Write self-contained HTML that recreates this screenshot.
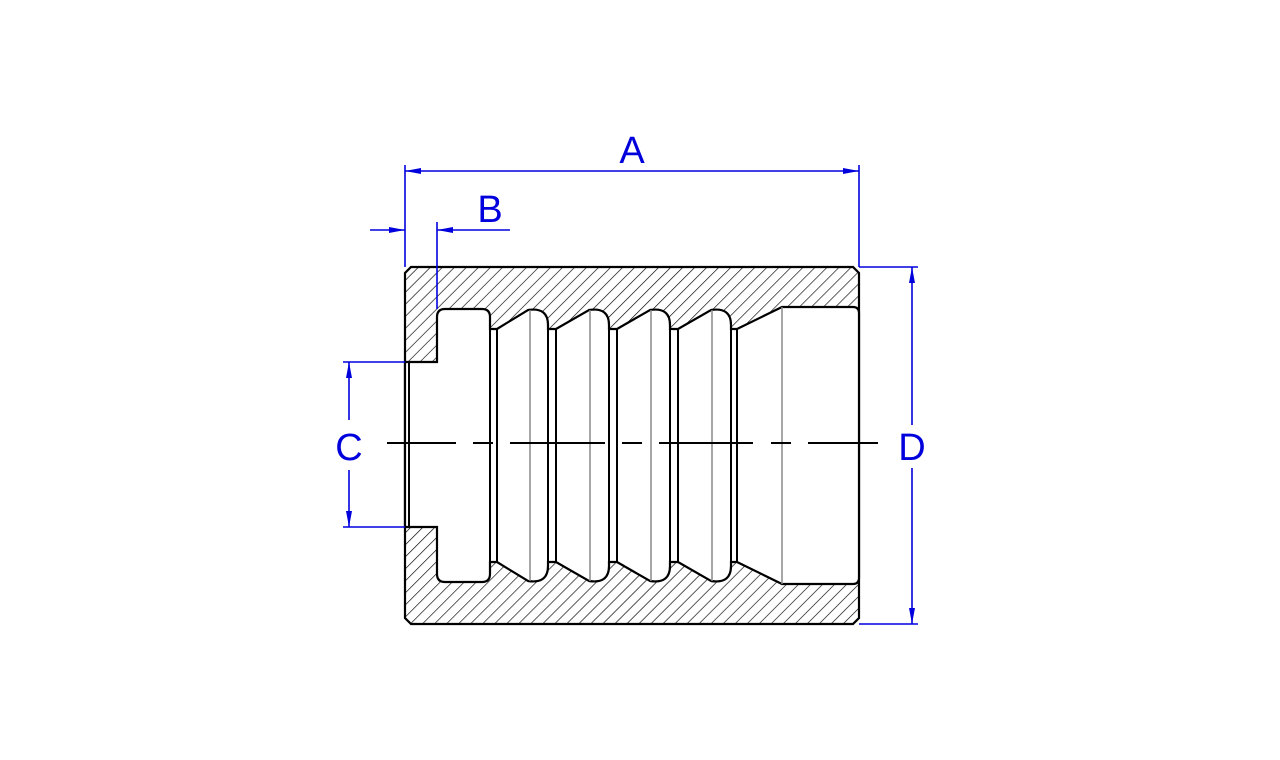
<!DOCTYPE html>
<html><head><style>html,body{margin:0;padding:0;background:#fff;}svg{display:block}</style></head>
<body>
<svg width="1280" height="760" viewBox="0 0 1280 760" xmlns="http://www.w3.org/2000/svg">
<defs>
<pattern id="h" patternUnits="userSpaceOnUse" width="8.5" height="8.5" patternTransform="rotate(45)">
<line x1="0" y1="0" x2="0" y2="8.5" stroke="#000" stroke-width="1.3"/>
</pattern>
</defs>
<path d="M411,267 L853,267 L859,273 L859,618 L853,624 L411,624 L405,618 L405,273 Z" fill="url(#h)" stroke="#000" stroke-width="2.2"/>
<path d="M405,362 L437,362 L437,317 Q437,309 445,309 L482,309 Q490,309 490,317 L490,329 L497,329 L528,310 Q548,307 548,325 L548,329 L556,329 L589,310 Q609,307 609,325 L609,329 L617,329 L650,310 Q670,307 670,325 L670,329 L678,329 L711,310 Q731,307 731,325 L731,329 L737,329 L782,307 L853,307 Q859,307 859,313 L859,578 Q859,584 853,584 L782,584 L737,562 L731,562 L731,566 Q731,584 711,581 L678,562 L670,562 L670,566 Q670,584 650,581 L617,562 L609,562 L609,566 Q609,584 589,581 L556,562 L548,562 L548,566 Q548,584 528,581 L497,562 L490,562 L490,574 Q490,582 482,582 L445,582 Q437,582 437,574 L437,527 L405,527 Z" fill="#fff" stroke="#000" stroke-width="2.2"/>
<g stroke="#000" stroke-width="2">
<line x1="409" y1="362" x2="409" y2="527"/>
<line x1="490" y1="329" x2="490" y2="562"/>
<line x1="497" y1="329" x2="497" y2="562"/>
<line x1="548" y1="329" x2="548" y2="562"/>
<line x1="556" y1="329" x2="556" y2="562"/>
<line x1="609" y1="329" x2="609" y2="562"/>
<line x1="617" y1="329" x2="617" y2="562"/>
<line x1="670" y1="329" x2="670" y2="562"/>
<line x1="678" y1="329" x2="678" y2="562"/>
<line x1="731" y1="329" x2="731" y2="562"/>
<line x1="737" y1="329" x2="737" y2="562"/>
</g>
<g stroke="#888" stroke-width="1.5">
<line x1="530" y1="310" x2="530" y2="581"/>
<line x1="590" y1="310" x2="590" y2="581"/>
<line x1="651" y1="310" x2="651" y2="581"/>
<line x1="712" y1="310" x2="712" y2="581"/>
<line x1="782" y1="307" x2="782" y2="584"/>
</g>
<g stroke="#000" stroke-width="2">
<line x1="387" y1="443" x2="456" y2="443"/>
<line x1="473" y1="443" x2="493" y2="443"/>
<line x1="510" y1="443" x2="605" y2="443"/>
<line x1="622" y1="443" x2="642" y2="443"/>
<line x1="659" y1="443" x2="753" y2="443"/>
<line x1="771" y1="443" x2="791" y2="443"/>
<line x1="808" y1="443" x2="878" y2="443"/>
</g>
<g stroke="#0000dd" stroke-width="1.6" fill="none">
<line x1="405" y1="165" x2="405" y2="267"/>
<line x1="859" y1="165" x2="859" y2="267"/>
<line x1="405" y1="171" x2="859" y2="171"/>
<line x1="437" y1="222" x2="437" y2="309"/>
<line x1="370" y1="230" x2="405" y2="230"/>
<line x1="437" y1="230" x2="510" y2="230"/>
<line x1="343" y1="362" x2="405" y2="362"/>
<line x1="343" y1="527" x2="405" y2="527"/>
<line x1="349" y1="362" x2="349" y2="420"/>
<line x1="349" y1="470" x2="349" y2="527"/>
<line x1="859" y1="267" x2="918" y2="267"/>
<line x1="859" y1="624" x2="918" y2="624"/>
<line x1="912" y1="267" x2="912" y2="425"/>
<line x1="912" y1="468" x2="912" y2="624"/>
</g>
<g fill="#0000dd">
<polygon points="405,171 421,168 421,174"/>
<polygon points="859,171 843,168 843,174"/>
<polygon points="405,230 389,227 389,233"/>
<polygon points="437,230 453,227 453,233"/>
<polygon points="349,362 346,378 352,378"/>
<polygon points="349,527 346,511 352,511"/>
<polygon points="912,267 909,283 915,283"/>
<polygon points="912,624 909,608 915,608"/>
</g>
<g fill="#0000dd" font-family="Liberation Sans Narrow, Liberation Sans, sans-serif" font-size="38" text-anchor="middle">
<text x="632" y="163">A</text>
<text x="490" y="222">B</text>
<text x="349" y="460">C</text>
<text x="912" y="460">D</text>
</g>
</svg>
</body></html>
